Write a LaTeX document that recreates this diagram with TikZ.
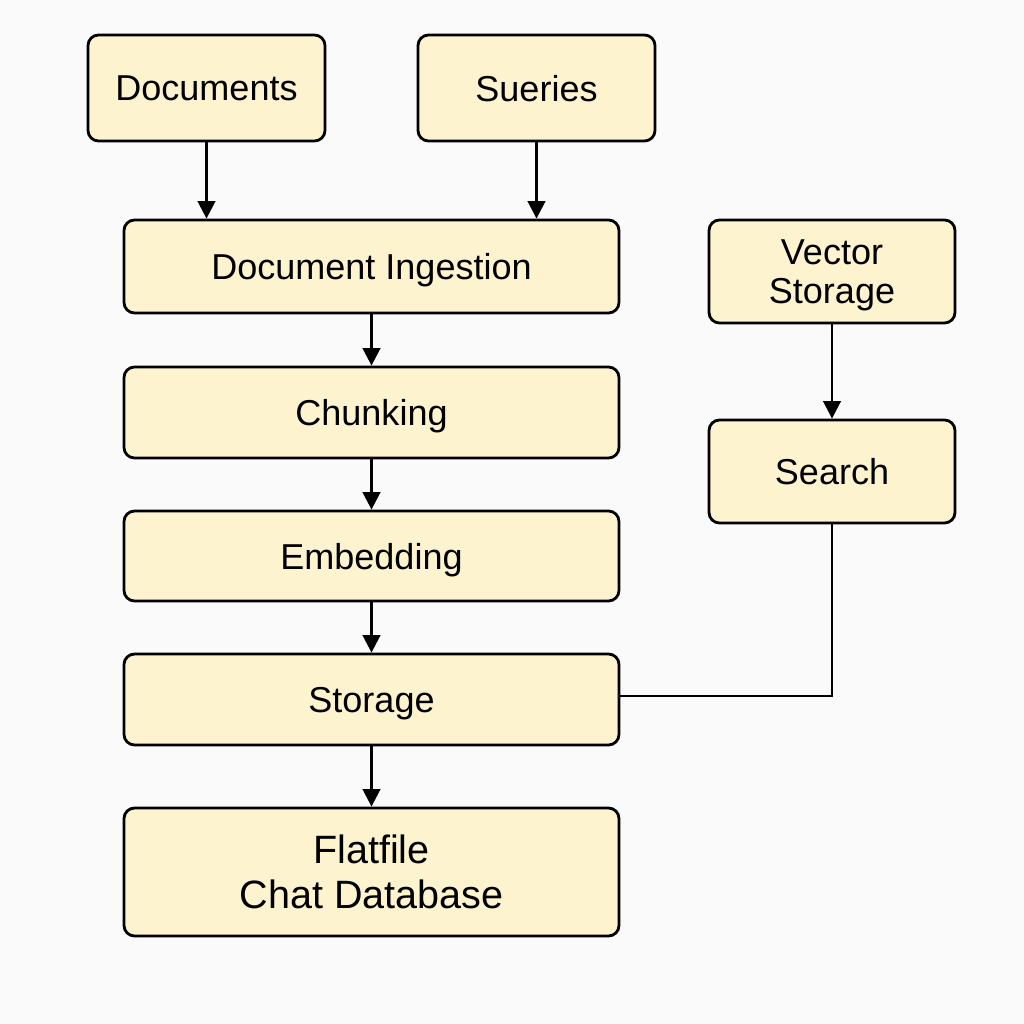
\documentclass[tikz,border=0pt]{standalone}
\usepackage{fontspec}
\setmainfont{Liberation Sans}
\usetikzlibrary{arrows.meta}
\definecolor{boxfill}{HTML}{FDF3CE}
\definecolor{bg}{HTML}{FAFAFA}
\begin{document}
\begin{tikzpicture}[x=0.02cm,y=-0.02cm,
  box/.style={draw=black,line width=1.6pt,fill=boxfill,rounded corners=6pt,inner sep=0pt,align=center,text depth=0pt,font=\fontsize{20.5}{23}\selectfont},
  conn/.style={line width=1.5pt,-{Triangle[length=10pt,width=10pt]}},
  plain/.style={line width=1.5pt}]
\fill[bg] (0,0) rectangle (1024,1024);
\useasboundingbox (0,0) rectangle (1024,1024);
\node[box,minimum width=237*0.02cm,minimum height=106*0.02cm] (docs) at (206.5,88) {Documents};
\node[box,minimum width=237*0.02cm,minimum height=106*0.02cm] (sue) at (536.5,88) {Sueries};
\node[box,minimum width=495*0.02cm,minimum height=93*0.02cm] (ing) at (371.5,266.5) {Document Ingestion};
\node[box,minimum width=495*0.02cm,minimum height=91*0.02cm] (chunk) at (371.5,412.5) {Chunking};
\node[box,minimum width=495*0.02cm,minimum height=90*0.02cm] (emb) at (371.5,556) {Embedding};
\node[box,minimum width=495*0.02cm,minimum height=91*0.02cm] (stor) at (371.5,699.5) {Storage};
\node[box,minimum width=495*0.02cm,minimum height=128*0.02cm,text depth=,font=\fontsize{22.5}{26}\selectfont] (flat) at (371.5,872) {Flatfile\\Chat Database};
\node[box,minimum width=246*0.02cm,minimum height=103*0.02cm,text depth=-2.5pt,font=\fontsize{20.5}{22}\selectfont] (vec) at (832,271.5) {Vector\\Storage};
\node[box,minimum width=246*0.02cm,minimum height=103*0.02cm] (search) at (832,471.5) {Search};
\draw[conn] (docs.south) -- (docs.south |- ing.north);
\draw[conn] (sue.south) -- (sue.south |- ing.north);
\draw[conn] (ing) -- (chunk);
\draw[conn] (chunk) -- (emb);
\draw[conn] (emb) -- (stor);
\draw[conn] (stor) -- (flat);
\draw[conn] (vec) -- (search);
\coordinate (corner) at (832,696);
\draw[plain] (search.south) -- (corner) -- (corner -| stor.east);
\end{tikzpicture}
\end{document}
